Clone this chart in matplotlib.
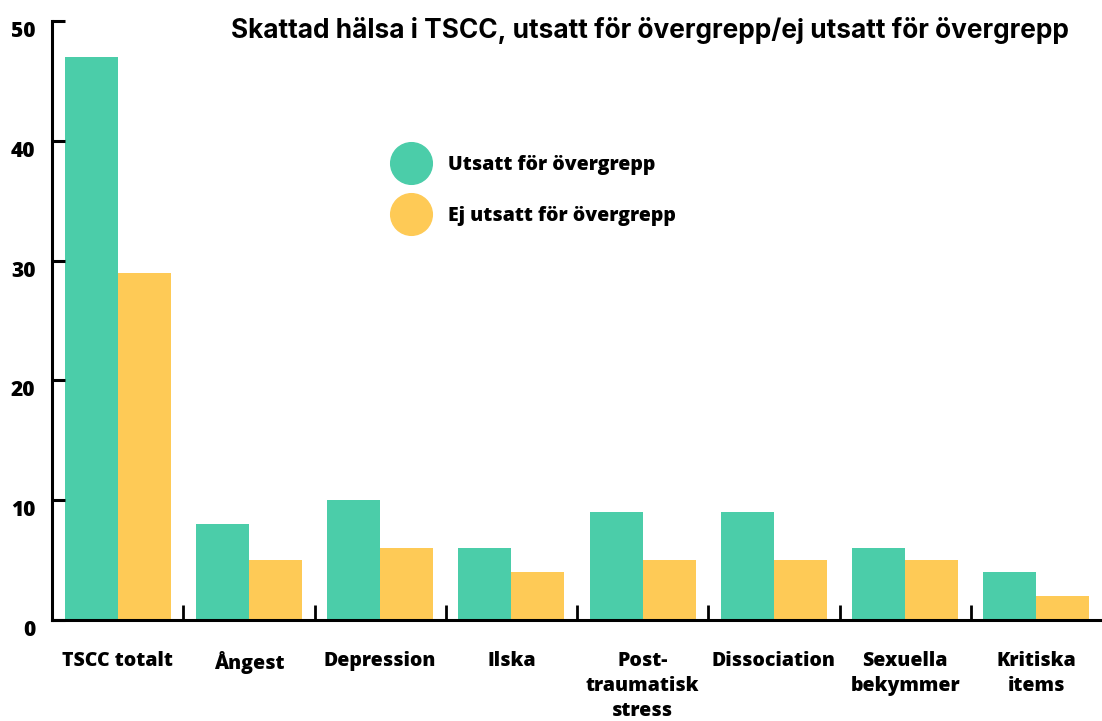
import numpy as np
import matplotlib.pyplot as plt
from matplotlib.lines import Line2D

# Data
categories = ["TSCC totalt", "Ångest", "Depression", "Ilska",
              "Post-\ntraumatisk\nstress", "Dissociation",
              "Sexuella\nbekymmer", "Kritiska\nitems"]
utsatt = [47, 8, 10, 6, 9, 9, 6, 4]
ej_utsatt = [29, 5, 6, 4, 5, 5, 5, 2]
yticks = [0, 10, 20, 30, 40, 50]

green = "#4BCDA9"
yellow = "#FECA56"
lab_font = "Open Sans"
lab_weight = 800

fig = plt.figure(figsize=(11.02, 7.21), dpi=100)
ax = fig.add_axes([52/1102, 101/721, 1050/1102, 599/721])

x = np.arange(len(categories))
w = 0.403
ax.bar(x - w/2, utsatt, width=w, color=green)
ax.bar(x + w/2, ej_utsatt, width=w, color=yellow)

ax.set_xlim(-0.5, len(categories) - 0.5)
ax.set_ylim(0, 50)

# spines
for s in ["top", "right"]:
    ax.spines[s].set_visible(False)
for s in ["left", "bottom"]:
    ax.spines[s].set_linewidth(2.2)

# y axis
ax.set_yticks(yticks)
ax.set_yticklabels([str(v) for v in yticks], fontfamily=lab_font,
                   fontweight=lab_weight, fontsize=15, va="top")
ax.tick_params(axis="y", direction="in", length=9, width=2.2, pad=12)
ax.set_yticks([50], minor=True)
ax.tick_params(axis="y", which="minor", direction="in", length=19, width=2.2)

# x axis: ticks at group boundaries, labels at centres
ax.set_xticks(x[:-1] + 0.5)
ax.set_xticklabels([])
ax.tick_params(axis="x", direction="in", length=11, width=2)
ax.set_xticks(x, minor=True)
ax.set_xticklabels(categories, minor=True, fontfamily=lab_font,
                   fontweight=lab_weight, fontsize=14, linespacing=1.36, va="top")
ax.tick_params(axis="x", which="minor", length=0, pad=22)

# legend
handles = [Line2D([], [], marker="o", linestyle="none", markersize=30,
                  markerfacecolor=green, markeredgecolor=green),
           Line2D([], [], marker="o", linestyle="none", markersize=30,
                  markerfacecolor=yellow, markeredgecolor=yellow)]
ax.legend(handles, ["Utsatt för övergrepp", "Ej utsatt för övergrepp"],
          loc="upper left", bbox_to_anchor=(0.311, 0.806), frameon=False,
          prop={"family": lab_font, "weight": lab_weight, "size": 14},
          handletextpad=1.15, labelspacing=1.6, handlelength=1.5)

fig.text(650/1102, 1 - 30/721,
         "Skattad hälsa i TSCC, utsatt för övergrepp/ej utsatt för övergrepp",
         ha="center", va="center", fontfamily="Inter", fontweight="bold",
         fontsize=18.9)

plt.savefig("out.png", dpi=100)
